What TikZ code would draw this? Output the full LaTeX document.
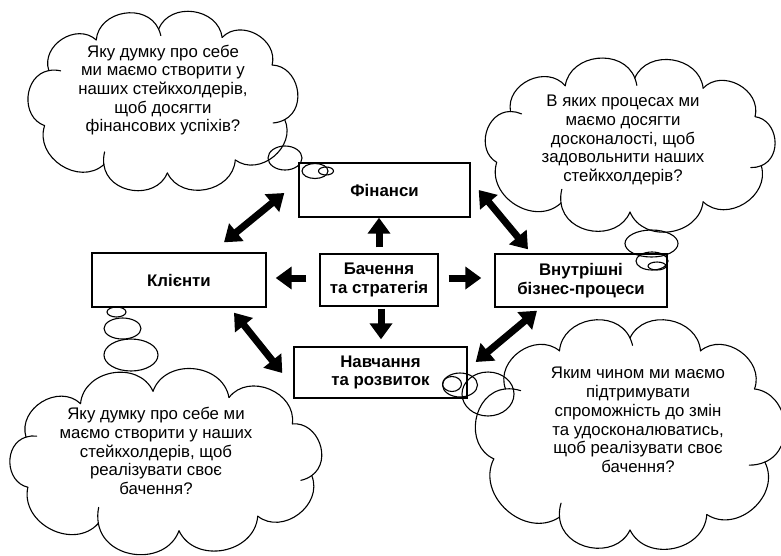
\documentclass[tikz,border=0pt]{standalone}
\usepackage{fontspec}
\setmainfont{Liberation Sans}
\usetikzlibrary{arrows.meta,calc}
\tikzset{
  box/.style={draw, line width=1.4pt, font=\bfseries\fontsize{16.8}{18.4}\selectfont, align=center, inner sep=0pt},
  ctext/.style={font=\fontsize{16.8}{18.7}\selectfont, align=center, inner sep=0pt},
  fat/.style={line width=7pt, -{Triangle[length=16pt,width=22pt]}},
  dbl/.style={line width=7pt, {Triangle[length=16pt,width=22pt]}-{Triangle[length=16pt,width=22pt]}},
  cl/.style={line width=1.1pt, line cap=round},
  bump/.style={bend left=75, looseness=1.2},
}
\newcommand\cloudoutline[6]{%
  \foreach \a [remember=\a as \p (initially #5)] in {#6}
    {\draw[cl] ($(#1,#2)+(\p:#3 and #4)$) to[bump] ($(#1,#2)+(\a:#3 and #4)$);}}
\newcommand\cloudinner[7]{%
  \draw[cl] let \p1=($(#1,#2)+(#5:#3 and #4)$), \p2=($(#1,#2)+(#6:#3 and #4)$),
     \n1={atan2(\y2-\y1,\x2-\x1)}, \n2={veclen(\x2-\x1,\y2-\y1)/(2*sin(75))}
   in (\p2) arc[start angle={\n1+15}, delta angle={-#7}, radius={\n2*1pt}];}
\begin{document}
\begin{tikzpicture}[x=1pt,y=-1pt]
\useasboundingbox (0,0) rectangle (781,555);

% boxes
\node[box, minimum width=171pt, minimum height=54pt] (fin) at (384.5,190) {Фінанси};
\node[box, minimum width=174pt, minimum height=54pt] (kl) at (179,280) {Клієнти};
\node[box, minimum width=118pt, minimum height=52pt] (vis) at (379,280) {Бачення\\та стратегія};
\node[box, minimum width=172pt, minimum height=53pt] (vn) at (581,280.5) {Внутрішні\\бізнес-процеси};
\node[box, minimum width=173pt, minimum height=51pt] (nav) at (380.5,372.5) {Навчання\\та розвиток};

% arrows from vision
\draw[fat] ($(vis.north)+(0,-6)$) -- (vis.north |- fin.south);
\draw[fat] ($(vis.west)+(-13,-2)$) -- ($(kl.east)+(9,-2)$);
\draw[fat] ($(vis.east)+(10,-2)$) -- ($(vn.west)+(-13,-2.5)$);
\draw[fat] ($(vis.south)+(2,2)$) -- ($(vis.south |- nav.north)+(2,-7)$);

% double arrows
\draw[dbl] ($(fin.west)+(-14,3)$) -- ($(kl.north)+(45,-10)$);
\draw[dbl] ($(fin.east)+(8,0)$) -- ($(vn.north)+(-53,-4)$);
\draw[dbl] ($(kl.south)+(55,5)$) -- ($(nav.west)+(-11,0.5)$);
\draw[dbl] ($(vn.south)+(-44,3)$) -- ($(nav.east)+(8,-10.5)$);

% clouds
\cloudoutline{163}{101}{126}{72}{160}{205,238,268,298,330,375,415,448,478,520}
\cloudinner{163}{101}{126}{72}{160}{205}{24}
\cloudinner{163}{101}{126}{72}{238}{268}{12}
\cloudinner{163}{101}{126}{72}{330}{375}{24}
\cloudinner{163}{101}{126}{72}{448}{478}{22}
\node[ctext] (c1) at (163,90) {Яку думку про себе\\ми маємо створити у\\наших стейкхолдерів,\\щоб досягти\\фінансових успіхів?};

\cloudoutline{630}{145}{138}{67}{165}{210,242,272,302,335,378,418,450,480,525}
\cloudinner{630}{145}{138}{67}{165}{210}{24}
\cloudinner{630}{145}{138}{67}{242}{272}{12}
\cloudinner{630}{145}{138}{67}{335}{378}{24}
\cloudinner{630}{145}{138}{67}{450}{480}{22}
\node[ctext] (c2) at (623,140) {В яких процесах ми\\маємо досягти\\досконалості, щоб\\задовольнити наших\\стейкхолдерів?};

\cloudoutline{166}{461}{149}{70}{158}{200,235,265,295,328,372,412,445,477,518}
\cloudinner{166}{461}{149}{70}{158}{200}{24}
\cloudinner{166}{461}{149}{70}{328}{372}{24}
\cloudinner{166}{461}{149}{70}{445}{477}{22}
\node[ctext] (c3) at (156,451) {Яку думку про себе ми\\маємо створити у наших\\стейкхолдерів, щоб\\реалізувати своє\\бачення?};

\cloudoutline{630}{434}{141}{96}{165}{208,240,270,300,332,377,417,450,480,525}
\cloudinner{630}{434}{141}{96}{165}{208}{24}
\cloudinner{630}{434}{141}{96}{240}{270}{12}
\cloudinner{630}{434}{141}{96}{332}{377}{24}
\cloudinner{630}{434}{141}{96}{450}{480}{22}
\node[ctext] (c4) at (638,420) {Яким чином ми маємо\\підтримувати\\спроможність до змін\\та удосконалюватись,\\щоб реалізувати своє\\бачення?};

% thought bubbles
\draw[cl] (285,158) ellipse [x radius=17, y radius=12];
\draw[cl] (315,171) ellipse [x radius=13, y radius=7.5];
\draw[cl] (326,171) ellipse [x radius=7.5, y radius=4];

\draw[cl] (651.5,243.5) ellipse [x radius=26.5, y radius=13.5];
\draw[cl] (652,261) ellipse [x radius=16, y radius=9];
\draw[cl] (657,266) ellipse [x radius=9, y radius=4];

\draw[cl] (116.5,312) ellipse [x radius=9.5, y radius=5];
\draw[cl] (122.5,328.5) ellipse [x radius=18.5, y radius=10.5];
\draw[cl] (131,355) ellipse [x radius=27, y radius=16];

\draw[cl] (452,384) ellipse [x radius=9.5, y radius=7.5];
\draw[cl] (460,385) ellipse [x radius=17.5, y radius=12];
\draw[cl] (488,394) ellipse [x radius=26, y radius=22];
\end{tikzpicture}
\end{document}
